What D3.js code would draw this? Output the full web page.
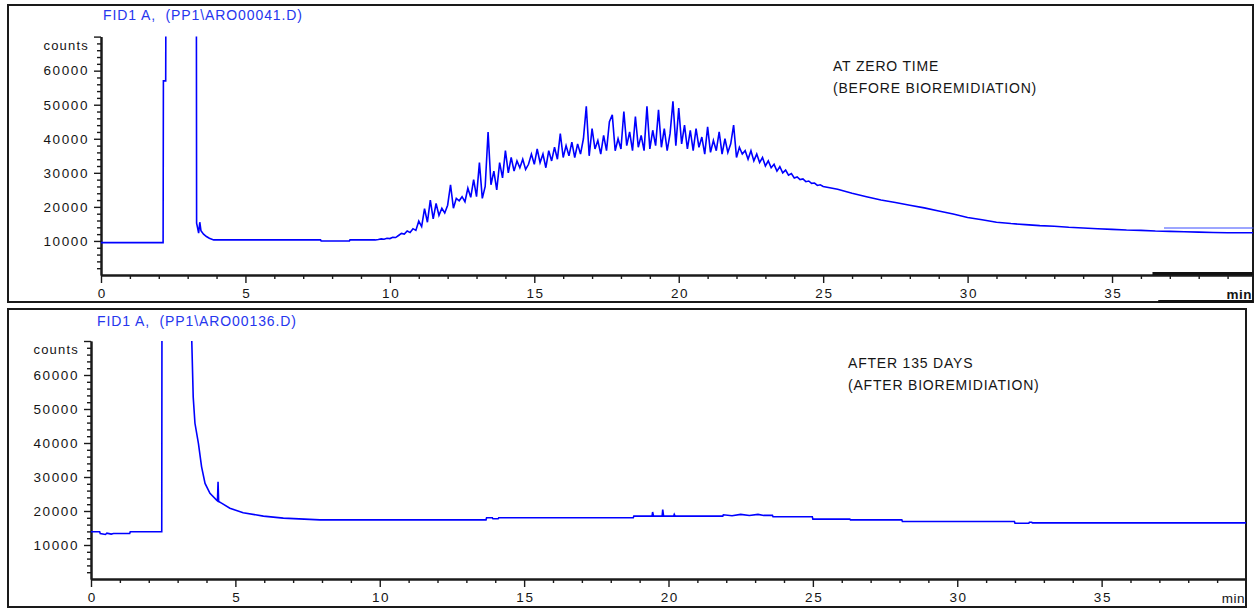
<!DOCTYPE html>
<html>
<head>
<meta charset="utf-8">
<script src="https://cdnjs.cloudflare.com/ajax/libs/d3/7.8.5/d3.min.js"></script>
<style>
  body { margin: 0; background: #fff; }
  svg { display: block; }
  text { font-family: Arial, "Liberation Sans", sans-serif; fill: #151515; white-space: pre; }
</style>
</head>
<body>
<script>
// ---------- data (time in min, signal in counts) ----------
const xTicks = [0, 5, 10, 15, 20, 25, 30, 35];
const yTicks = [10000, 20000, 30000, 40000, 50000, 60000];
const titles = ['FID1 A,  (PP1\\ARO00041.D)', 'FID1 A,  (PP1\\ARO00136.D)'];
const notes = [
  ['AT ZERO TIME', '(BEFORE BIOREMIDIATION)'],
  ['AFTER 135 DAYS', '(AFTER BIOREMIDIATION)']
];

// zero time run: solvent peak + baseline
const topHead = [
  [0, 9500], [2.15, 9500], [2.16, 57000], [2.24, 57000], [2.25, 95000],
  [3.30, 95000], [3.31, 15200], [3.34, 14000], [3.38, 12300], [3.42, 15500],
  [3.46, 13000], [3.55, 12000], [3.65, 11300], [3.75, 10800], [3.9, 10300],
  [7.6, 10300], [7.62, 10000], [8.6, 10000], [8.62, 10300]
];
// unresolved hump, sampled every 0.1 min from 9.5 to 25.0
const topHumpStart = 9.5;
const topHumpStep = 0.1;
const topHump = [
  10300, 10400, 10600, 10500, 10800, 10700, 11100, 11000, 11600, 12200,
  12000, 12900, 12500, 13600, 13100, 15800, 14200, 19500, 15500, 22000,
  16500, 21000, 17500, 19600, 18200, 20500, 26500, 19600, 22500, 21800,
  23000, 21500, 25500, 22800, 28000, 23000, 33000, 22500, 26000, 42000,
  26500, 30500, 25000, 33000, 28500, 36500, 30000, 34500, 30500, 33500,
  31500, 34000, 31000, 32500, 35500, 32500, 37000, 33000, 35500, 31500,
  36500, 33500, 37500, 34000, 41500, 34500, 38000, 35000, 39000, 34500,
  38500, 35500, 40000, 49500, 35000, 43000, 37000, 39500, 35500, 41000,
  36500, 45000, 47000, 36500, 40000, 37000, 48000, 38000, 42000, 36500,
  46500, 37500, 41000, 36500, 49500, 37000, 42500, 38000, 48500, 37500,
  43000, 36500, 41500, 51000, 38000, 49000, 38500, 44000, 37000, 42500,
  36500, 43000, 37500, 40500, 35500, 43500, 36000, 39500, 36500, 42000,
  35500, 40000, 36000, 38500, 44000, 34500, 37500, 35500, 36500, 34000,
  36500, 33500, 35500, 33000, 34500, 32000, 33500, 31500, 32500, 30500,
  31800, 30000, 30800, 29300, 29800, 28500, 28800, 28000, 28200, 27400,
  27600, 26900, 27000, 26300, 26500, 26000
];
const topTail = [
  [25.5, 25200], [26, 24000], [26.5, 23000], [27, 22000], [27.5, 21300],
  [28, 20500], [28.5, 19700], [29, 18800], [29.5, 17900], [30, 16900],
  [30.5, 16200], [31, 15500], [31.5, 15100], [32, 14800], [32.5, 14500],
  [33, 14300], [33.5, 14000], [34, 13800], [34.5, 13600], [35, 13400],
  [35.5, 13200], [36, 13100], [36.5, 12900], [37, 12800], [37.5, 12700],
  [38, 12600], [38.5, 12500], [39, 12400], [39.9, 12400]
];
const topEcho = [[36.8, 13800], [39.9, 13800]];

// after 135 days run
const bottomTrace = [
  [0, 13900], [0.3, 13900], [0.32, 13400], [0.5, 13100], [0.55, 13500],
  [0.7, 13200], [0.78, 13400], [1.34, 13400], [1.36, 13900], [2.45, 13900],
  [2.46, 95000], [3.48, 95000], [3.49, 70000], [3.54, 53500], [3.6, 45800],
  [3.72, 39900], [3.83, 33000], [3.95, 28100], [4.12, 25200], [4.35, 23200],
  [4.38, 23000], [4.40, 28600], [4.42, 22800], [4.52, 22300], [4.81, 20800],
  [5.27, 19500], [5.97, 18500], [6.66, 17900], [7.93, 17400], [13.68, 17400],
  [13.7, 18000], [13.9, 18000], [13.92, 17700], [14.1, 17700], [14.12, 18000],
  [18.78, 18000], [18.8, 18500], [19.43, 18500], [19.45, 19700], [19.48, 18500],
  [19.78, 18500], [19.8, 20400], [19.83, 18500], [20.18, 18500], [20.2, 19000],
  [20.23, 18500], [21.88, 18500], [21.9, 18900], [22.2, 18600], [22.5, 19000],
  [22.8, 18700], [23.1, 19000], [23.3, 18700], [23.6, 18700], [23.62, 18300],
  [24.98, 18300], [25.0, 17600], [26.28, 17600], [26.3, 17400], [28.08, 17400],
  [28.1, 16900], [31.98, 16900], [32.0, 16400], [32.48, 16400], [32.5, 16700],
  [32.58, 16700], [32.6, 16500], [40, 16500]
];

// ---------- layout ----------
const W = 1256, H = 611;
const panels = [
  { box: [8, 5, 1245, 297], x0: 101, x1: 1253, xMax: 39.88, y0: 275, y1: 36.6,
    title: [103, 20], note: [833, 71], minBold: true },
  { box: [8, 309, 1238, 298], x0: 91, x1: 1246, xMax: 40, y0: 579, y1: 341,
    title: [97, 326], note: [848, 368], minBold: false }
];

const topData = topHead
  .concat(topHump.map((v, i) => [topHumpStart + i * topHumpStep, v]))
  .concat(topTail);
const series = [topData, bottomTrace];

const svg = d3.select('body').append('svg')
  .attr('width', W)
  .attr('height', H);

panels.forEach((p, i) => {
  const g = svg.append('g');

  g.append('rect')
    .attr('x', p.box[0]).attr('y', p.box[1])
    .attr('width', p.box[2]).attr('height', p.box[3])
    .attr('fill', '#fff')
    .attr('stroke', '#1a1a1a')
    .attr('stroke-width', 2);

  const x = d3.scaleLinear().domain([0, p.xMax]).range([p.x0, p.x1]);
  const y = d3.scaleLinear().domain([0, 70000]).range([p.y0, p.y1]);

  // clip the trace to the plotting area
  g.append('clipPath').attr('id', 'clip' + i)
    .append('rect')
    .attr('x', p.x0).attr('y', p.y1)
    .attr('width', p.x1 - p.x0).attr('height', p.y0 - p.y1);

  // x axis: minor every min, major every 5
  const xMinor = d3.range(1, Math.floor(p.xMax) + 1).filter(d => d % 5 !== 0);
  g.append('g')
    .attr('class', 'axis')
    .attr('transform', `translate(0,${p.y0})`)
    .call(d3.axisBottom(x).tickValues(xMinor).tickSize(4).tickFormat('').tickSizeOuter(0));
  g.append('g')
    .attr('class', 'axis xmaj')
    .attr('transform', `translate(0,${p.y0})`)
    .call(d3.axisBottom(x).tickValues(xTicks).tickSize(8).tickPadding(5).tickSizeOuter(0));

  // y axis: minor every 2000, major every 10000
  const yMinor = d3.range(2000, 70000, 2000).filter(d => d % 10000 !== 0);
  g.append('g')
    .attr('class', 'axis')
    .attr('transform', `translate(${p.x0},0)`)
    .call(d3.axisLeft(y).tickValues(yMinor).tickSize(4).tickFormat('').tickSizeOuter(0));
  g.append('g')
    .attr('class', 'axis ymaj')
    .attr('transform', `translate(${p.x0},0)`)
    .call(d3.axisLeft(y).tickValues(yTicks.concat([70000])).tickSize(7).tickPadding(5)
      .tickFormat(d => d === 70000 ? '' : d3.format('d')(d)).tickSizeOuter(0));

  g.append('text')
    .attr('x', p.x0 - 12)
    .attr('y', y(70000) + 13)
    .attr('text-anchor', 'end')
    .style('font-size', '13px')
    .style('letter-spacing', '1.2px')
    .text('counts');

  g.append('text')
    .attr('x', p.x1 - 1)
    .attr('y', p.y0 + 24)
    .attr('text-anchor', 'end')
    .style('font-size', '13.5px')
    .style('font-weight', p.minBold ? 'bold' : 'normal')
    .style('letter-spacing', '0.5px')
    .text('min');

  // trace
  const line = d3.line()
    .x(d => x(d[0]))
    .y(d => y(d[1]));

  g.append('path')
    .datum(series[i])
    .attr('clip-path', `url(#clip${i})`)
    .attr('fill', 'none')
    .attr('stroke', '#0000ff')
    .attr('stroke-width', 1.6)
    .attr('d', line);

  if (i === 0) {
    g.append('path')
      .datum(topEcho)
      .attr('fill', 'none')
      .attr('stroke', '#3a4cff')
      .attr('stroke-width', 1)
      .attr('d', line);
    // dark scan marks at bottom right of the first panel
    g.append('rect')
      .attr('x', x(36.4)).attr('y', p.y0 - 3)
      .attr('width', p.x1 - x(36.4)).attr('height', 3)
      .attr('fill', '#111');
    g.append('rect')
      .attr('x', x(36.6)).attr('y', p.box[1] + p.box[3] - 2)
      .attr('width', p.x1 - x(36.6)).attr('height', 3)
      .attr('fill', '#111');
  }

  // title and note
  g.append('text')
    .attr('x', p.title[0]).attr('y', p.title[1])
    .style('font-size', '14px')
    .style('letter-spacing', '0.9px')
    .style('fill', '#2636ee')
    .text(titles[i]);

  notes[i].forEach((s, k) => {
    g.append('text')
      .attr('x', p.note[0]).attr('y', p.note[1] + k * 22)
      .style('font-size', '14px')
      .style('letter-spacing', '0.8px')
      .text(s);
  });
});

d3.selectAll('.axis path')
  .attr('stroke', '#1a1a1a')
  .attr('stroke-width', 2);
d3.selectAll('.axis line')
  .attr('stroke', '#1a1a1a')
  .attr('stroke-width', 1.4);
d3.selectAll('.xmaj text, .ymaj text')
  .style('font-size', '13.5px')
  .style('letter-spacing', '1.6px')
  .attr('fill', '#151515')
  .style('font-family', 'Arial, "Liberation Sans", sans-serif');
d3.selectAll('.xmaj text').attr('dx', '0.8px');
</script>
</body>
</html>
